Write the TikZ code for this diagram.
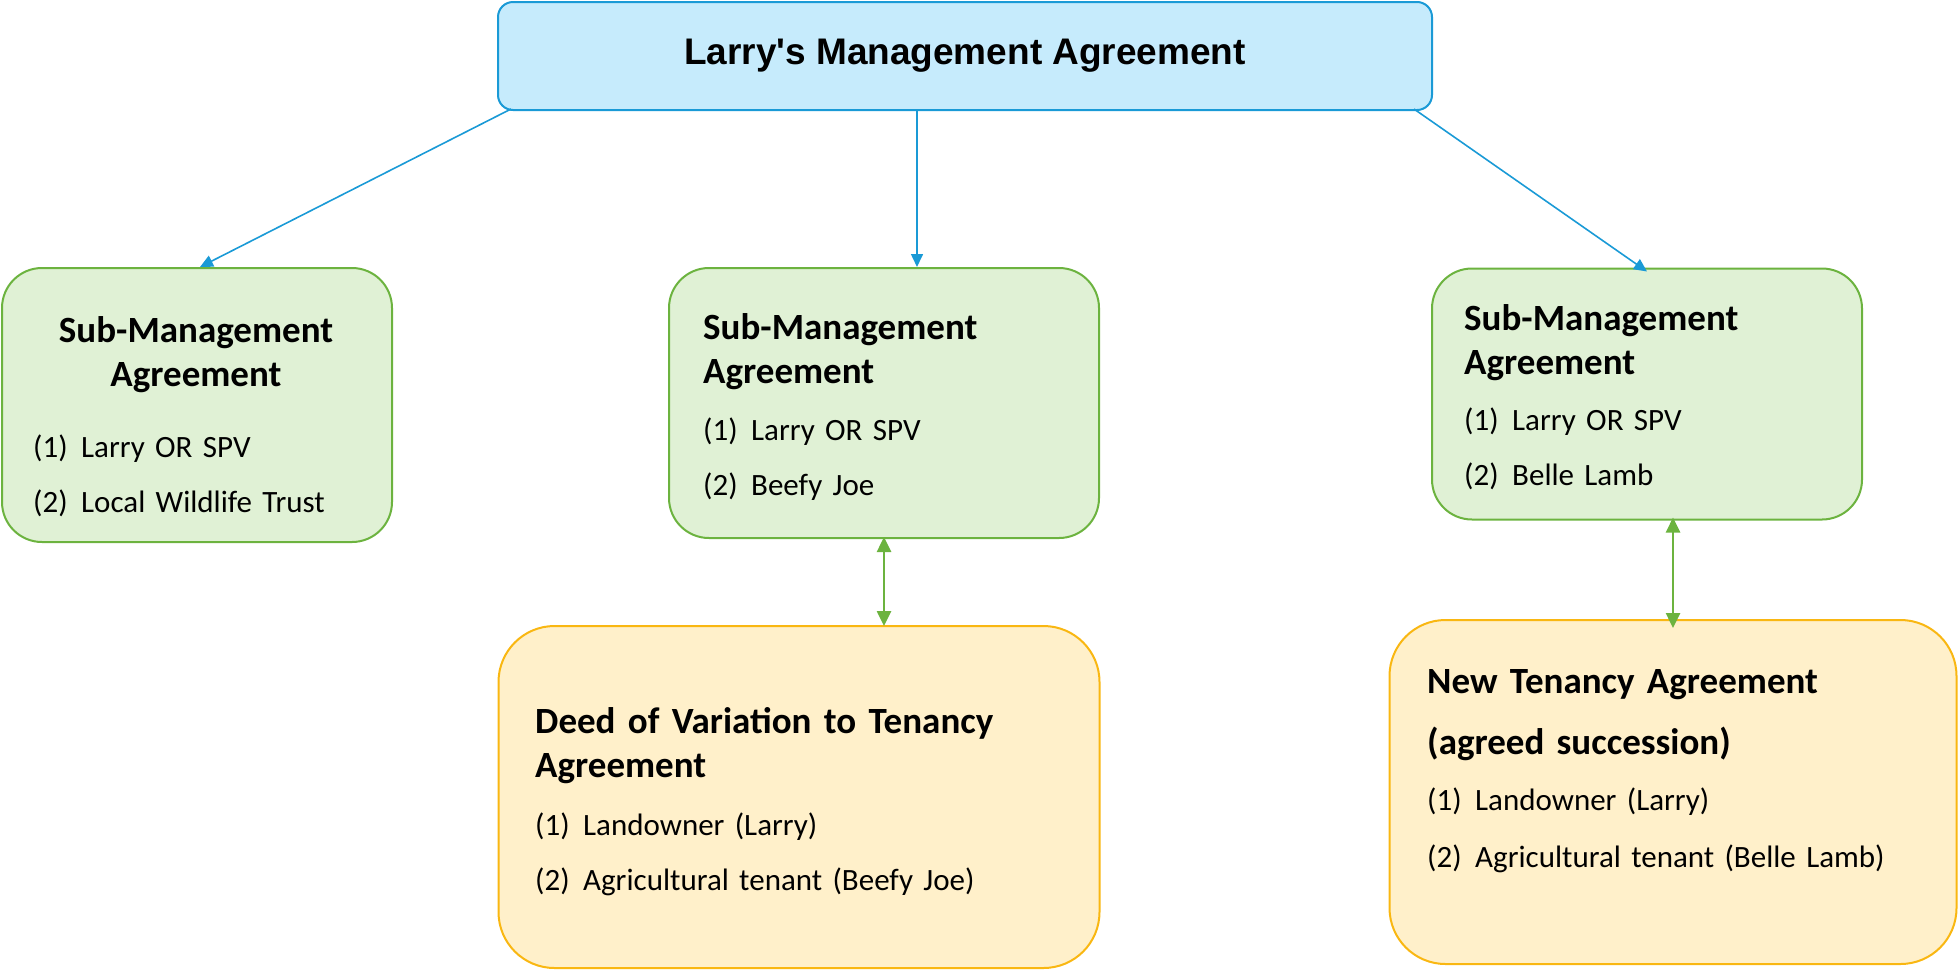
\documentclass[tikz,border=0pt]{standalone}
\usepackage{fontspec}
\setmainfont{Carlito}
\newfontfamily\arialfont{Liberation Sans}
\usepackage{tikz}
\usetikzlibrary{arrows.meta}

\definecolor{boxblue}{HTML}{C6EBFC}
\definecolor{lineblue}{HTML}{1A9AD6}
\definecolor{boxgreen}{HTML}{E0F1D5}
\definecolor{linegreen}{HTML}{6CB33F}
\definecolor{boxgold}{HTML}{FFF0CA}
\definecolor{linegold}{HTML}{F9B712}

\newcommand{\party}[2]{\makebox[48pt][l]{(#1)}#2}

\begin{document}
\begin{tikzpicture}[x=1pt, y=-1pt,
        mainbox/.style = {draw=lineblue, fill=boxblue, line width=2pt,
                          rounded corners=15pt, inner sep=0pt,
                          minimum width=934pt, minimum height=108pt,
                          font=\arialfont\bfseries\fontsize{37}{44}\selectfont},
        subbox/.style  = {draw=linegreen, fill=boxgreen, line width=2pt,
                          rounded corners=40pt, inner sep=0pt},
        tenbox/.style  = {draw=linegold, fill=boxgold, line width=2pt,
                          rounded corners=56pt, inner sep=0pt},
        heading/.style = {anchor=base west, inner sep=0pt, text width=640pt,
                          align=left, font=\bfseries\fontsize{37}{44}\selectfont},
        parties/.style = {anchor=base west, inner sep=0pt, text width=640pt,
                          align=left, font=\fontsize{31}{55}\selectfont},
        link/.style     = {draw=lineblue, line width=1.6pt,
                           -{Triangle[length=13pt,width=12pt]}},
        pairlink/.style = {draw=linegreen, line width=2.6pt,
                           {Triangle[length=15pt,width=14pt]}-{Triangle[length=15pt,width=14pt]}}]
    \useasboundingbox (0,0) rectangle (1959,970);

    % top
    \node[mainbox] (larry) at (965,56) {Larry's Management Agreement};

    % sub-management agreements
    \node[subbox, minimum width=390pt, minimum height=274pt] (subA) at (197,405) {};
    \node[subbox, minimum width=430pt, minimum height=270pt] (subB) at (884,403) {};
    \node[subbox, minimum width=430pt, minimum height=251pt] (subC) at (1647,394) {};

    % tenancy
    \node[tenbox, minimum width=601pt, minimum height=342pt] (deed) at (799,797) {};
    \node[tenbox, minimum width=567pt, minimum height=344pt] (newt) at (1673,792) {};

    % texts
    \node[heading, anchor=base, text width=330pt, align=center] (subA title) at (196,342)
        {Sub-Management\\Agreement};
    \node[parties] (subA list) at (33,457) {\party{1}{Larry OR SPV}\\\party{2}{Local Wildlife Trust}};

    \node[heading] (subB title) at (703,339) {Sub-Management\\Agreement};
    \node[parties] (subB list) at (703,440) {\party{1}{Larry OR SPV}\\\party{2}{Beefy Joe}};

    \node[heading] (subC title) at (1464,330) {Sub-Management\\Agreement};
    \node[parties] (subC list) at (1464,430) {\party{1}{Larry OR SPV}\\\party{2}{Belle Lamb}};

    \node[heading] (deed title) at (535,733) {Deed of Variation to Tenancy\\Agreement};
    \node[parties] (deed list) at (535,835)
        {\party{1}{Landowner (Larry)}\\\party{2}{Agricultural tenant (Beefy Joe)}};

    \node[heading] (newt title) at (1427,693) {New Tenancy Agreement\\[17pt](agreed succession)};
    \node[parties] (newt list) at (1427,810)
        {\party{1}{Landowner (Larry)}\\[2pt]\party{2}{Agricultural tenant (Belle Lamb)}};

    % connectors
    \draw[link] ([xshift=14pt, yshift=2pt]larry.south west) -- ([xshift=3pt]subA.north);
    \draw[link] ([xshift=-48pt]larry.south) -- ([xshift=-48pt]larry.south |- subB.north);
    \draw[link] ([xshift=-19pt, yshift=2pt]larry.south east) -- ([yshift=-4pt]subC.north);

    \draw[pairlink] ([yshift=2pt]subB.south) -- ([yshift=-1pt]subB.south |- deed.north);
    \draw[pairlink] ([yshift=3pt]subC.south -| newt.north) -- ([yshift=-9pt]newt.north);
\end{tikzpicture}
\end{document}
